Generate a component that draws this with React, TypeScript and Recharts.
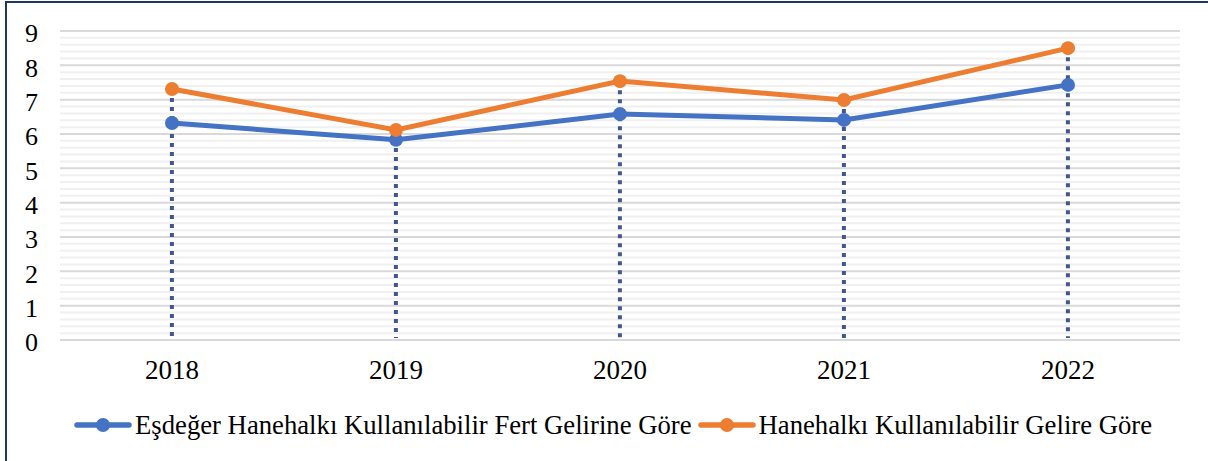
import { ComposedChart, Line, Bar, XAxis, YAxis, CartesianGrid, Legend } from 'recharts'

const years = ['2018', '2019', '2020', '2021', '2022']
const esdeger = [6.32, 5.83, 6.58, 6.41, 7.43]
const hanehalki = [7.31, 6.12, 7.54, 6.99, 8.5]
const yTicks = [0, 1, 2, 3, 4, 5, 6, 7, 8, 9]
const minorTicks = yTicks.slice(0, -1).flatMap((t) => [0.2, 0.4, 0.6, 0.8].map((f) => t + f))

const seriesNames = {
  esdeger: 'Eşdeğer Hanehalkı Kullanılabilir Fert Gelirine Göre',
  hanehalki: 'Hanehalkı Kullanılabilir Gelire Göre',
}

const data = years.map((year, i) => ({
  year,
  esdeger: esdeger[i],
  hanehalki: hanehalki[i],
  top: Math.max(esdeger[i], hanehalki[i]),
}))

const FONT = '"Liberation Serif", "Times New Roman", serif'

// dotted drop line from the highest point down to the axis
const DropLine = (props: any) => {
  const { x, y, width, height } = props
  const cx = x + width / 2
  return (
    <line x1={cx} x2={cx} y1={y} y2={y + height - 2} stroke="#42578A" strokeWidth={4} strokeDasharray="4 5" />
  )
}

const legendItems = [
  { key: 'esdeger', color: '#4472C4' },
  { key: 'hanehalki', color: '#ED7D31' },
]

const renderLegend = () => (
  <div style={{ display: 'flex', alignItems: 'center', height: 40, paddingLeft: 74, fontFamily: FONT, fontSize: 26.7, color: '#000', whiteSpace: 'nowrap' }}>
    {legendItems.map((it) => (
      <div key={it.key} style={{ display: 'flex', alignItems: 'center', marginRight: 6 }}>
        <svg width={58} height={18} style={{ marginRight: 3 }}>
          <line x1={3} x2={55} y1={9} y2={9} stroke={it.color} strokeWidth={5.5} strokeLinecap="round" />
          <circle cx={29} cy={9} r={7} fill={it.color} />
        </svg>
        <span>{seriesNames[it.key as keyof typeof seriesNames]}</span>
      </div>
    ))}
  </div>
)

export default function App() {
  return (
    <div style={{ position: 'absolute', left: 0, top: 0, width: 1208, height: 461, overflow: 'hidden', background: '#fff' }}>
      <div style={{ position: 'absolute', left: 5, top: 1, width: 1300, height: 600, border: '2px solid #1F3864', boxSizing: 'border-box' }} />
      <ComposedChart width={1208} height={461} data={data} margin={{ top: 31, right: 28, left: 0, bottom: 51 }}>
        <CartesianGrid vertical={false} horizontalValues={minorTicks} stroke="#F0F0F0" strokeWidth={2} />
        <CartesianGrid vertical={false} horizontalValues={yTicks} stroke="#D9D9D9" strokeWidth={2} />
        <XAxis
          dataKey="year"
          axisLine={false}
          tickLine={false}
          tickSize={0}
          tickMargin={20}
          height={30}
          tick={{ fontSize: 27, fill: '#000', fontFamily: FONT }}
        />
        <YAxis
          domain={[0, 9]}
          ticks={yTicks}
          interval={0}
          axisLine={false}
          tickLine={false}
          tickSize={0}
          tickMargin={22}
          width={60}
          tick={{ fontSize: 26, fill: '#000', fontFamily: FONT, dy: 2 }}
        />
        <Line
          dataKey="esdeger"
          stroke="#4472C4"
          strokeWidth={5}
          dot={{ r: 7, fill: '#4472C4', stroke: '#4472C4', strokeWidth: 0 }}
          isAnimationActive={false}
        />
        <Line
          dataKey="hanehalki"
          stroke="#ED7D31"
          strokeWidth={5}
          dot={{ r: 7, fill: '#ED7D31', stroke: '#ED7D31', strokeWidth: 0 }}
          isAnimationActive={false}
        />
        <Bar dataKey="top" shape={DropLine} isAnimationActive={false} legendType="none" />
        <Legend content={renderLegend} verticalAlign="bottom" wrapperStyle={{ left: 0, top: 405, width: 1208 }} />
      </ComposedChart>
    </div>
  )
}
